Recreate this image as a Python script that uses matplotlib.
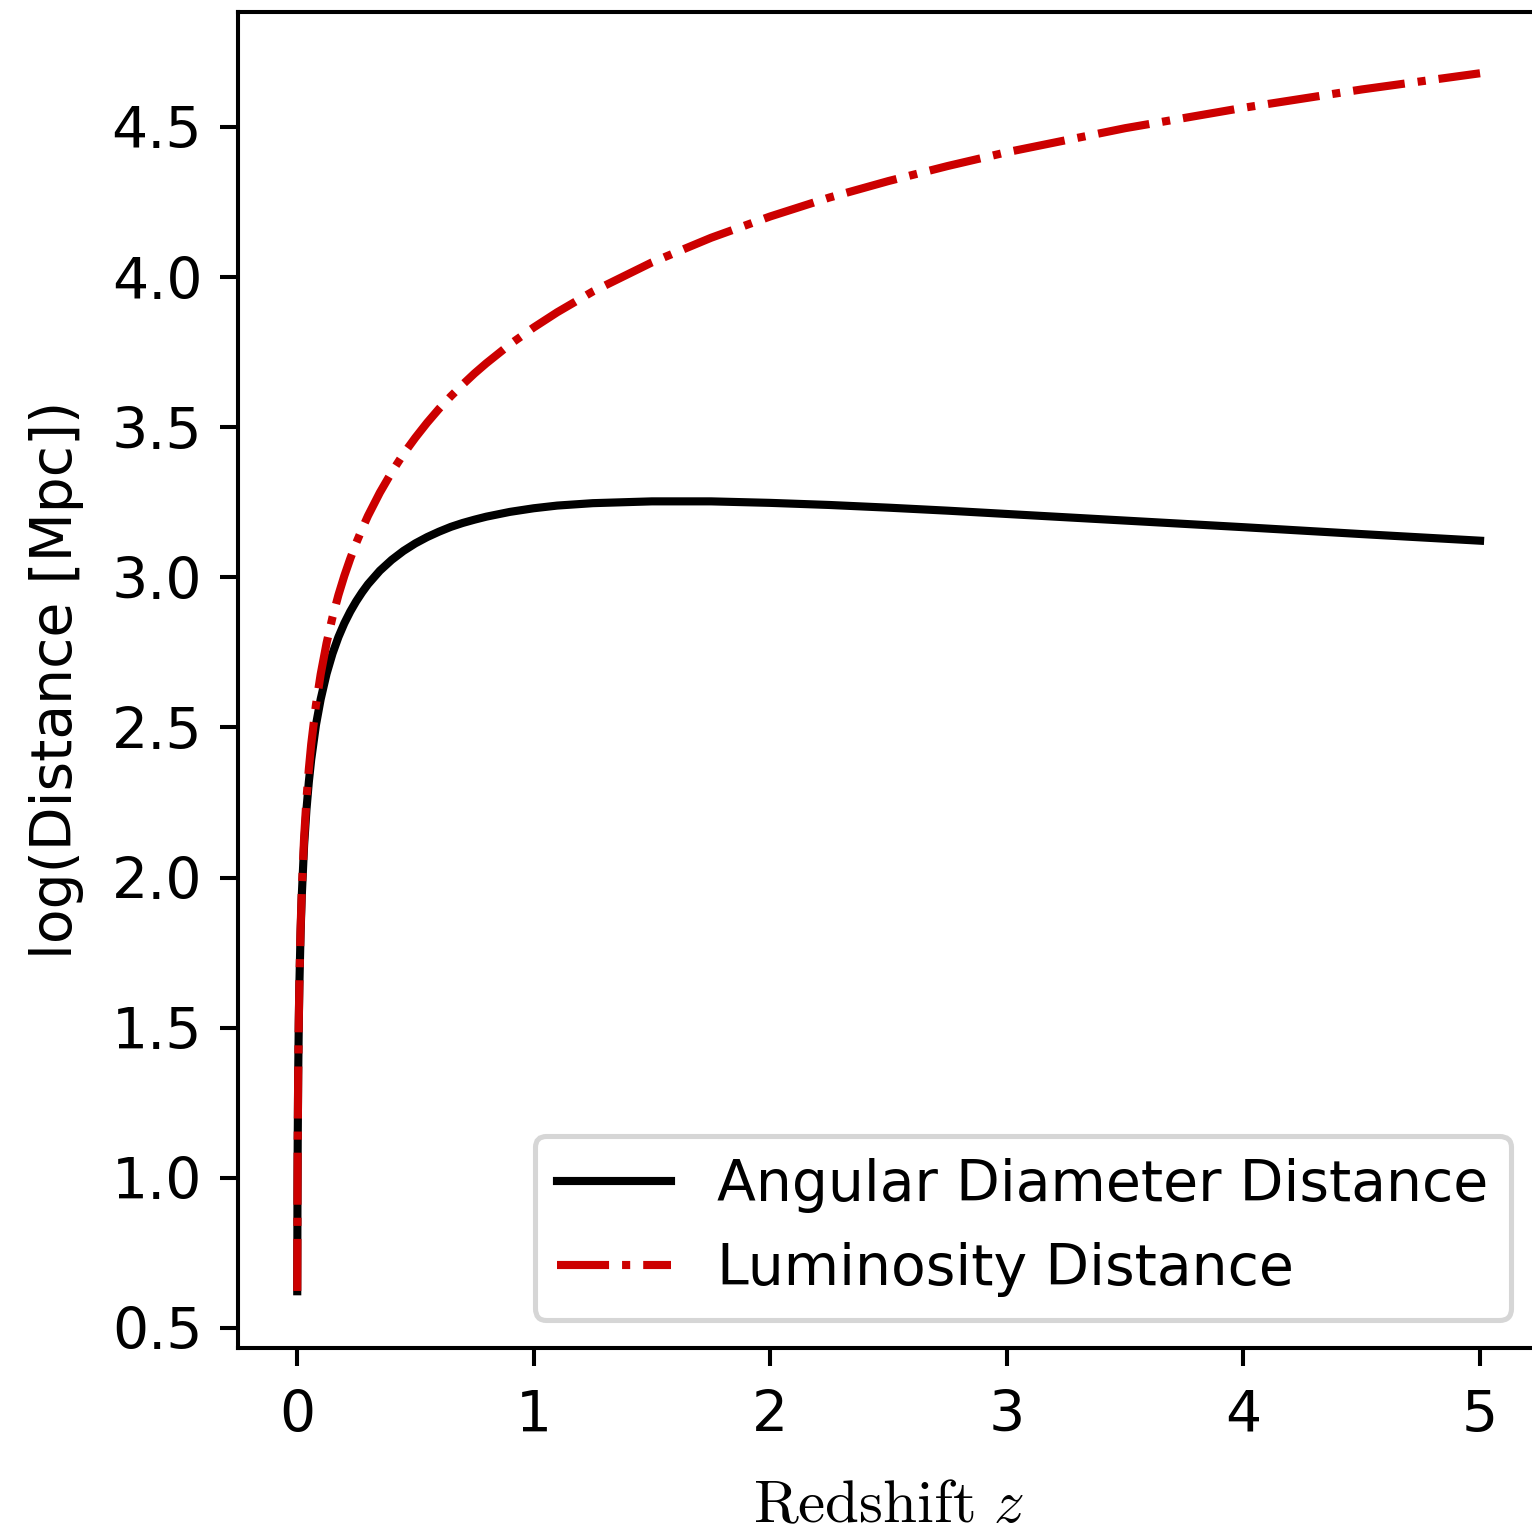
import matplotlib
matplotlib.use("Agg")
import matplotlib.pyplot as plt

plt.rcParams["mathtext.fontset"] = "cm"

# Redshift grid and log10 distances (Mpc).
redshift = [0.001, 0.002, 0.003, 0.005, 0.0075, 0.01, 0.015, 0.02, 0.03, 0.04,
            0.05, 0.06, 0.08, 0.1, 0.125, 0.15, 0.175, 0.2, 0.225, 0.25,
            0.275, 0.3, 0.35, 0.4, 0.45, 0.5, 0.55, 0.6, 0.65, 0.7,
            0.75, 0.8, 0.9, 1.0, 1.1, 1.25, 1.5, 1.75, 2.0, 2.25,
            2.5, 2.75, 3.0, 3.5, 4.0, 4.5, 5.0]

log_angular = [0.622, 0.946, 1.122, 1.343, 1.517, 1.641, 1.814, 1.937, 2.108, 2.227,
               2.319, 2.393, 2.508, 2.594, 2.679, 2.746, 2.801, 2.847, 2.886, 2.920,
               2.950, 2.977, 3.022, 3.058, 3.088, 3.113, 3.134, 3.152, 3.168, 3.181,
               3.192, 3.202, 3.218, 3.230, 3.239, 3.247, 3.253, 3.253, 3.248, 3.241,
               3.232, 3.222, 3.211, 3.189, 3.167, 3.144, 3.122]

log_luminosity = [0.623, 0.948, 1.124, 1.347, 1.524, 1.650, 1.827, 1.954, 2.133, 2.261,
                  2.361, 2.444, 2.575, 2.677, 2.781, 2.867, 2.941, 3.005, 3.062, 3.114,
                  3.161, 3.205, 3.282, 3.350, 3.411, 3.465, 3.515, 3.561, 3.603, 3.642,
                  3.679, 3.713, 3.776, 3.832, 3.883, 3.952, 4.049, 4.131, 4.202, 4.265,
                  4.320, 4.370, 4.416, 4.496, 4.564, 4.625, 4.679]

DPI = 366
FONT = 11.2

fig = plt.figure(figsize=(1532 / DPI, 1533 / DPI), dpi=DPI)
ax = fig.add_axes([0.15526, 0.12068, 0.84944, 0.87149])

ax.plot(redshift, log_angular, color="black", lw=1.6, ls="-",
        label="Angular Diameter Distance")
ax.plot(redshift, log_luminosity, color="#cc0000", lw=1.6, ls="-.",
        label="Luminosity Distance")

ax.set_xlim(-0.25, 5.25)
ax.set_ylim(0.433, 4.883)
ax.set_xticks([0, 1, 2, 3, 4, 5])
ax.set_yticks([0.5, 1.0, 1.5, 2.0, 2.5, 3.0, 3.5, 4.0, 4.5])
ax.tick_params(labelsize=FONT)
ax.tick_params(axis="x", pad=4.5)

ax.set_xlabel(r"$\mathrm{Redshift}\ z$", fontsize=12, labelpad=6.5)
ax.set_ylabel("log(Distance [Mpc])", fontsize=FONT, labelpad=5.5)
ax.legend(loc="lower right", fontsize=FONT)

fig.savefig("out.png", dpi=DPI)
